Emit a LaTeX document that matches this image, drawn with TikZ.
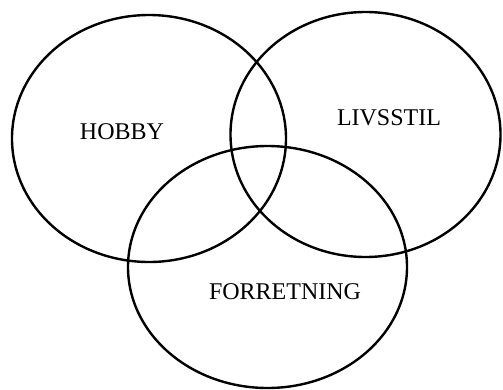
\documentclass[tikz,border=0pt]{standalone}
\usepackage{fontspec}
\setmainfont{Liberation Serif}
\begin{document}
\begin{tikzpicture}[x=1pt,y=-1pt,
  ring/.style={draw=black,line width=2.4pt},
  lbl/.style={font=\fontsize{24}{28}\selectfont,inner sep=0pt,anchor=base}]
\useasboundingbox (0,0) rectangle (503,389);
\draw[ring] (149,138.5) ellipse [x radius=137, y radius=123.5];
\draw[ring] (365.5,134.5) ellipse [x radius=135, y radius=122.5];
\draw[ring] (267.5,267) ellipse [x radius=139.5, y radius=121];
\node[lbl] (hobby) at (122,139.5) {HOBBY};
\node[lbl] (livsstil) at (389,125.5) {LIVSSTIL};
\node[lbl] (forretning) at (285,299.5) {FORRETNING};
\end{tikzpicture}
\end{document}
